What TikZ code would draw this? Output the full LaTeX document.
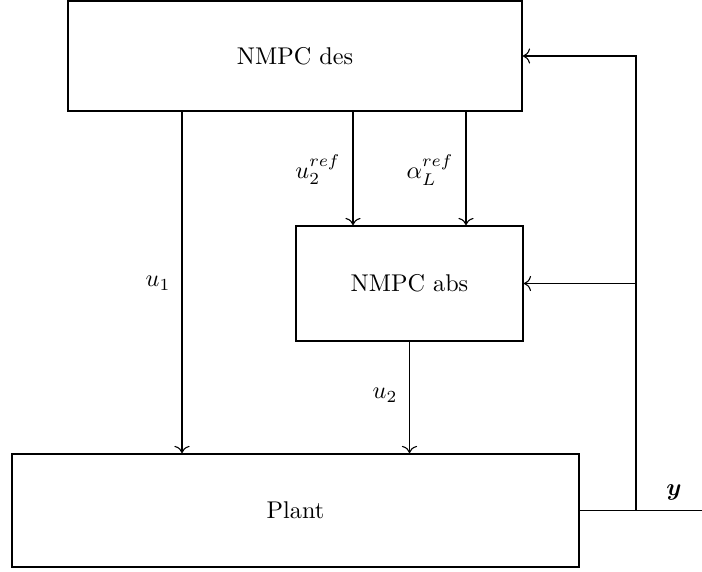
\documentclass[tikz,border=0pt]{standalone}
\usepackage{amsmath,bm}
\usetikzlibrary{arrows.meta}
\begin{document}
\begin{tikzpicture}[x=0.413pt,y=-0.413pt,
  blk/.style={draw,line width=0.7pt,rectangle,inner sep=0pt},
  sig/.style={-{To[scale=1.15]},line width=0.45pt},
  lbl/.style={inner sep=0pt}]
\useasboundingbox (0,0) rectangle (702,572);
\node[blk,minimum width=187.5pt,minimum height=45.4pt] (des) at (295,56) {NMPC des};
\node[blk,minimum width=93.75pt,minimum height=47.5pt] (abs) at (409.5,283.5) {NMPC abs};
\node[blk,minimum width=234.2pt,minimum height=46.7pt] (plant) at (295.5,510.5) {Plant};
\coordinate (c1) at (182,0);
\coordinate (c2) at (353,0);
\coordinate (c3) at (466,0);
\coordinate (fb) at (636,510.5);
\coordinate (yend) at (702,510.5);
\draw[sig] (des.south -| c1) -- (plant.north -| c1);
\draw[sig] (des.south -| c2) -- (abs.north -| c2);
\draw[sig] (des.south -| c3) -- (abs.north -| c3);
\draw[sig] (abs.south) -- (plant.north -| abs.south);
\draw[line width=0.45pt] (plant.east) -- (yend);
\draw[sig] (fb) |- (des.east);
\draw[sig] (fb |- abs.east) -- (abs.east);
\node[lbl] (lu1) at (158,283) {$u_1$};
\node[lbl] (lu2r) at (318,170) {$u_2^{ref}$};
\node[lbl] (lal) at (430,170) {$\alpha_L^{ref}$};
\node[lbl] (lu2) at (385,395) {$u_2$};
\node[lbl] (ly) at (674,492) {$\bm{y}$};
\end{tikzpicture}
\end{document}
